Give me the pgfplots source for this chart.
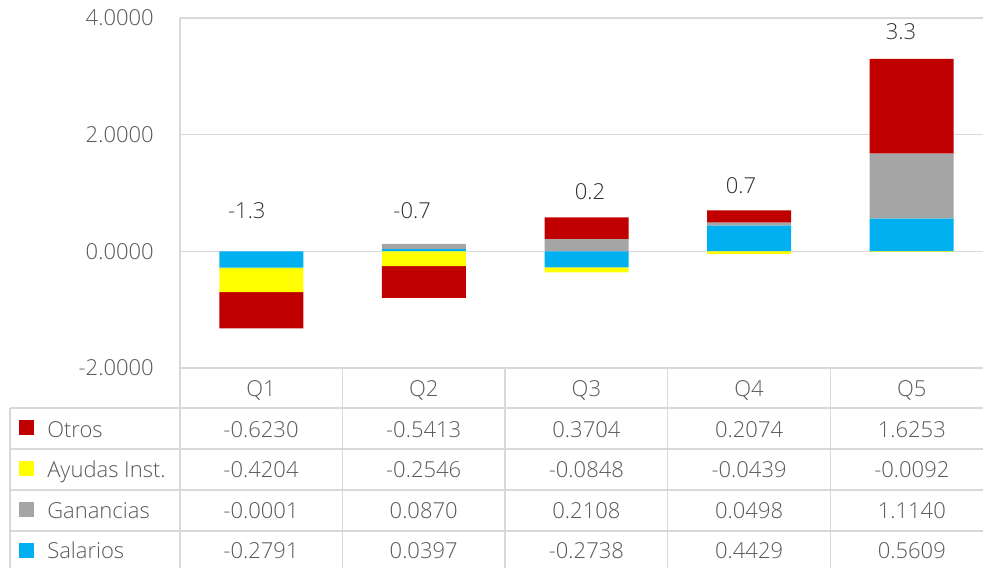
\documentclass[border=0pt]{standalone}
\usepackage{pgfplots}
\usepackage{pgfplotstable}
\pgfplotsset{compat=1.18}
\usepackage{fontspec}
\setmainfont{Open Sans}[UprightFont={* Light}]
\definecolor{cOtros}{HTML}{C00000}
\definecolor{cAyudas}{HTML}{FFFF00}
\definecolor{cGan}{HTML}{A5A5A5}
\definecolor{cSal}{HTML}{00B0F0}
\definecolor{gridc}{HTML}{D9D9D9}
\definecolor{txt}{HTML}{595959}
\definecolor{lbl}{HTML}{303030}

\pgfplotstableread{
x v
0 -0.2791
1 0.0397
2 -0.2738
3 0.4429
4 0.5609
}\salarios
\pgfplotstableread{
x v
0 -0.0001
1 0.0870
2 0.2108
3 0.0498
4 1.1140
}\ganancias
\pgfplotstableread{
x v
0 -0.4204
1 -0.2546
2 -0.0848
3 -0.0439
4 -0.0092
}\ayudas
\pgfplotstableread{
x v
0 -0.6230
1 -0.5413
2 0.3704
3 0.2074
4 1.6253
}\otros
\pgfplotstableread{
x y label
-0.089 0.691 -1.3
0.928 0.691 -0.7
2.022 1.017 0.2
2.950 1.120 0.7
3.934 3.770 3.3
}\totals

\pgfplotsset{base/.style={at={(135pt,-276pt)}, anchor=south west,
  scale only axis, width=609.75pt, height=262.5pt,
  xmin=-0.5, xmax=4.5, ymin=-2, ymax=4}}

\begin{document}
\begin{tikzpicture}[font=\fontsize{16.5}{19.5}\selectfont]
\path[use as bounding box] (0,0) rectangle (737.25pt,-426pt);
% positive parts
\begin{axis}[base, ybar stacked, bar width=63pt,
  ytick={-2,0,2,4}, xtick=\empty,
  ymajorgrids, major grid style={gridc, line width=1pt},
  axis line style={draw=none}, major tick length=0pt,
  yticklabel style={text=txt, anchor=east, inner sep=0pt, xshift=-19.5pt,
    /pgf/number format/fixed, /pgf/number format/fixed zerofill,
    /pgf/number format/precision=4, /pgf/number format/assume math mode=true}]
\addplot[fill=cSal, draw=none] table[x=x, y expr={max(\thisrow{v},0)}] {\salarios};
\addplot[fill=cGan, draw=none] table[x=x, y expr={max(\thisrow{v},0)}] {\ganancias};
\addplot[fill=cAyudas, draw=none] table[x=x, y expr={max(\thisrow{v},0)}] {\ayudas};
\addplot[fill=cOtros, draw=none] table[x=x, y expr={max(\thisrow{v},0)}] {\otros};
\end{axis}
% negative parts
\begin{axis}[base, ybar stacked, bar width=63pt, hide axis]
\addplot[fill=cSal, draw=none] table[x=x, y expr={min(\thisrow{v},0)}] {\salarios};
\addplot[fill=cGan, draw=none] table[x=x, y expr={min(\thisrow{v},0)}] {\ganancias};
\addplot[fill=cAyudas, draw=none] table[x=x, y expr={min(\thisrow{v},0)}] {\ayudas};
\addplot[fill=cOtros, draw=none] table[x=x, y expr={min(\thisrow{v},0)}] {\otros};
\end{axis}
% total labels
\begin{axis}[base, hide axis, clip=false]
\addplot[draw=none, mark=none, nodes near coords, point meta=explicit symbolic,
  every node near coord/.append style={anchor=center, text=lbl, inner sep=0pt}]
  table[x=x, y=y, meta=label] {\totals};
\end{axis}
% data table
\begin{scope}[x=0.75pt, y=-0.75pt]
\begin{scope}[gridc, line width=1pt]
\draw (180,18) -- (180,575);
\draw (180,368) -- (995,368);
\foreach \y in {408,449,490,531} \draw (10,\y) -- (995,\y);
\draw (10,408) -- (10,575);
\foreach \x in {342.4,505.1,667.8,830.5} \draw (\x,368) -- (\x,575);
\end{scope}
\foreach \x/\q in {261/Q1,423.7/Q2,586.4/Q3,749.1/Q4,911.8/Q5}
  \node[text=txt, anchor=base, inner sep=0pt] at (\x,396.5) {\q};
\fill[cOtros] (19,420) rectangle (34,435);
\fill[cAyudas] (19,461) rectangle (34,476);
\fill[cGan] (19,502) rectangle (34,517);
\fill[cSal] (19,543) rectangle (34,558);
\node[text=txt, anchor=base west, inner sep=0pt] at (47,437) {Otros};
\node[text=txt, anchor=base west, inner sep=0pt] at (47,477.5) {Ayudas Inst.};
\node[text=txt, anchor=base west, inner sep=0pt] at (47,518) {Ganancias};
\node[text=txt, anchor=base west, inner sep=0pt] at (47,558.5) {Salarios};
\foreach \x/\a/\b/\c/\d in {
  261/-0.6230/-0.4204/-0.0001/-0.2791,
  423.7/-0.5413/-0.2546/0.0870/0.0397,
  586.4/0.3704/-0.0848/0.2108/-0.2738,
  749.1/0.2074/-0.0439/0.0498/0.4429,
  911.8/1.6253/-0.0092/1.1140/0.5609}{
  \node[text=txt, anchor=base, inner sep=0pt] at (\x,437) {\a};
  \node[text=txt, anchor=base, inner sep=0pt] at (\x,477.5) {\b};
  \node[text=txt, anchor=base, inner sep=0pt] at (\x,518) {\c};
  \node[text=txt, anchor=base, inner sep=0pt] at (\x,558.5) {\d};
}
\end{scope}
\end{tikzpicture}
\end{document}
